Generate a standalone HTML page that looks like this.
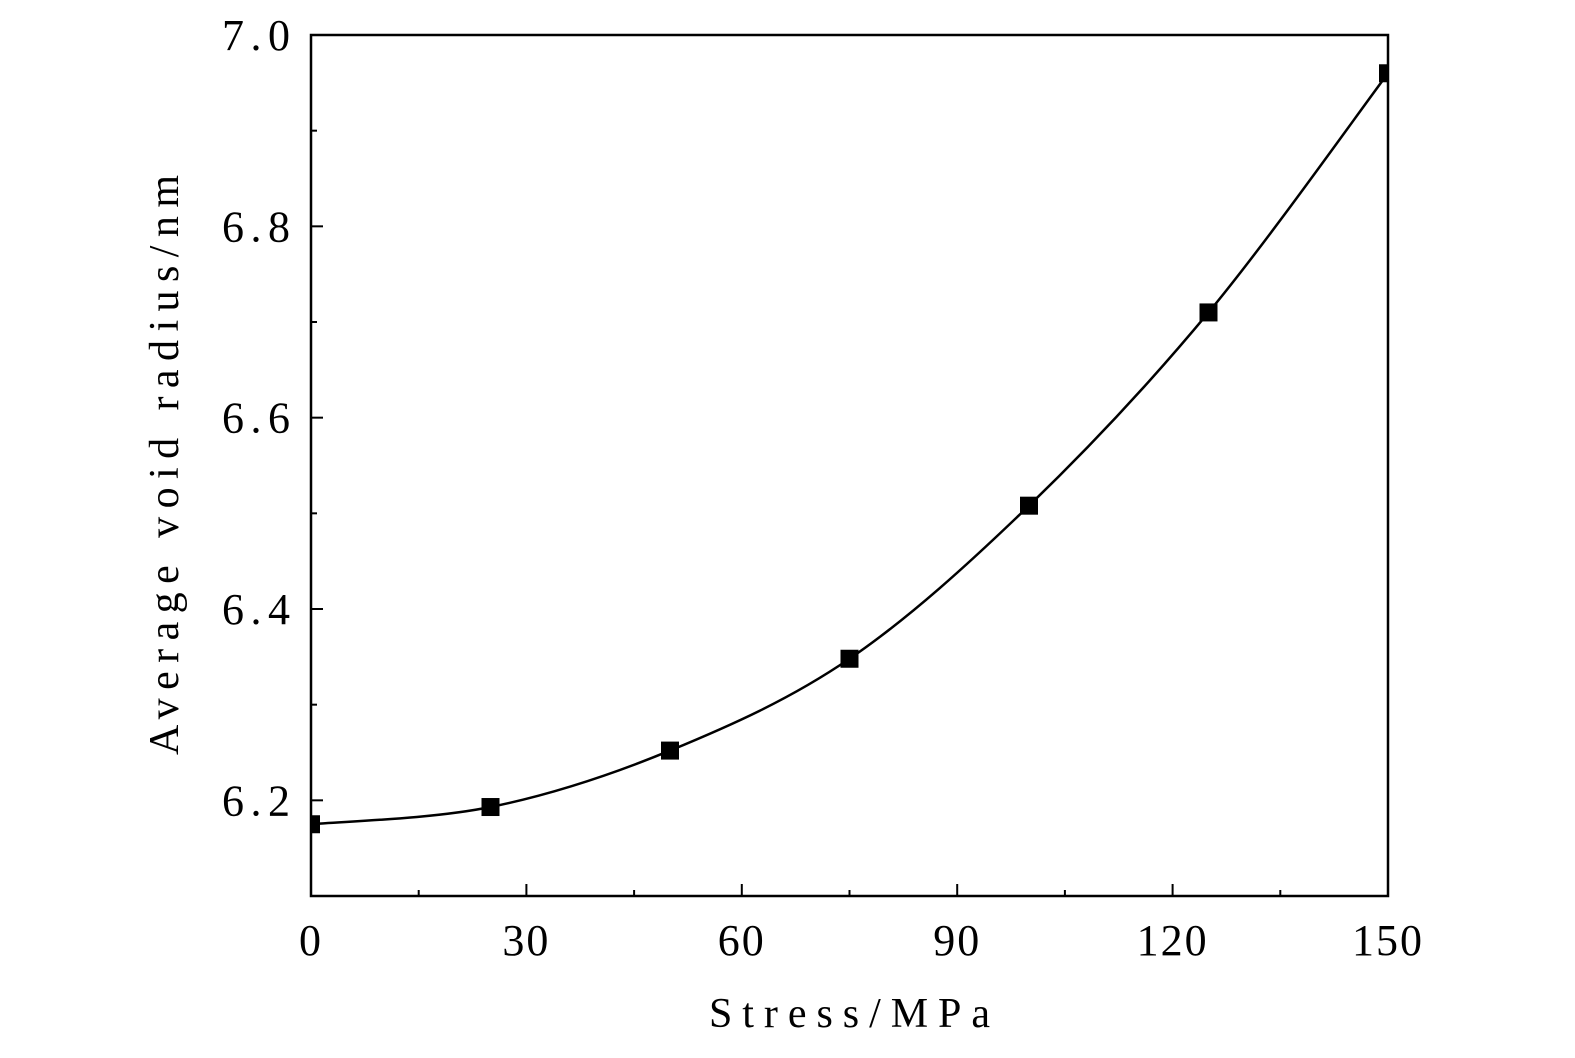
<!DOCTYPE html>
<html><head><meta charset="utf-8"><style>
html,body{margin:0;padding:0;background:#fff;}
svg text{font-family:"Liberation Serif","DejaVu Serif",serif;fill:#000;}
</style></head><body>
<svg id="chart" width="1575" height="1053" viewBox="0 0 1575 1053" xmlns="http://www.w3.org/2000/svg">
<defs><clipPath id="plotclip"><rect x="311" y="35" width="1077" height="861"/></clipPath></defs>
<g id="axes"></g>
<g id="series" clip-path="url(#plotclip)"></g>
<rect x="311" y="35" width="1077" height="861" fill="none" stroke="#000" stroke-width="2.5"/>
<text x="709" y="1027" font-size="42" textLength="281" lengthAdjust="spacing">Stress/MPa</text>
<text transform="translate(178,755) rotate(-90)" font-size="42" textLength="580" lengthAdjust="spacing">Average void radius/nm</text>
</svg>
<script>
const stress = [0, 25, 50, 75, 100, 125, 150];
const radius = [6.175, 6.193, 6.252, 6.348, 6.508, 6.71, 6.96];
const xTicks = [0, 30, 60, 90, 120, 150];
const xMinor = [15, 45, 75, 105, 135];
const yTicks = [6.2, 6.4, 6.6, 6.8, 7.0];
const yMinor = [6.1, 6.3, 6.5, 6.7, 6.9];
const yTickLabels = ["6.2", "6.4", "6.6", "6.8", "7.0"];

const X0=311, X1=1388, Y0=896, Y1=35, xmin=0, xmax=150, ymin=6.1, ymax=7.0;
const sx = v => X0 + (v - xmin) / (xmax - xmin) * (X1 - X0);
const sy = v => Y0 - (v - ymin) / (ymax - ymin) * (Y0 - Y1);
const NS = "http://www.w3.org/2000/svg";
const axes = document.getElementById('axes');
const series = document.getElementById('series');
function mk(tag, attrs, parent){const e=document.createElementNS(NS,tag);for(const k in attrs)e.setAttribute(k,attrs[k]);parent.appendChild(e);return e;}

xTicks.forEach(v=>{
  const t=mk('line',{x1:sx(v),x2:sx(v),y1:Y0,y2:Y0-12,stroke:'#000','stroke-width':2},axes);
  
  
  const l=mk('text',{x:sx(v),y:955,'font-size':44,'text-anchor':'middle','letter-spacing':2},axes);
  l.textContent=v;
  
  
});
xMinor.forEach(v=>{
  const t=mk('line',{x1:sx(v),x2:sx(v),y1:Y0,y2:Y0-6,stroke:'#000','stroke-width':2},axes);
  
  
});
yTicks.forEach((v,i)=>{
  const t=mk('line',{x1:X0,x2:X0+12,y1:sy(v),y2:sy(v),stroke:'#000','stroke-width':2},axes);
  
  
  const l=mk('text',{x:222,y:sy(v)+15,'font-size':44,textLength:68,lengthAdjust:'spacing'},axes);
  l.textContent=yTickLabels[i];
  
  
});
yMinor.forEach(v=>{
  const t=mk('line',{x1:X0,x2:X0+6,y1:sy(v),y2:sy(v),stroke:'#000','stroke-width':2},axes);
  
  
});

const pts = stress.map((s,i)=>[sx(s),sy(radius[i])]);
let d=`M${pts[0][0]},${pts[0][1]}`;
for(let i=0;i<pts.length-1;i++){
  const p0=pts[Math.max(0,i-1)],p1=pts[i],p2=pts[i+1],p3=pts[Math.min(pts.length-1,i+2)];
  const c1=[p1[0]+(p2[0]-p0[0])/6,p1[1]+(p2[1]-p0[1])/6];
  const c2=[p2[0]-(p3[0]-p1[0])/6,p2[1]-(p3[1]-p1[1])/6];
  d+=` C${c1[0]},${c1[1]} ${c2[0]},${c2[1]} ${p2[0]},${p2[1]}`;
}
const fit=mk('path',{d:d,fill:'none',stroke:'#000','stroke-width':2.5},series);


pts.forEach(p=>{
  const r=mk('rect',{x:p[0]-9,y:p[1]-9,width:18,height:18,fill:'#000'},series);
  
  
});
</script>
</body></html>
